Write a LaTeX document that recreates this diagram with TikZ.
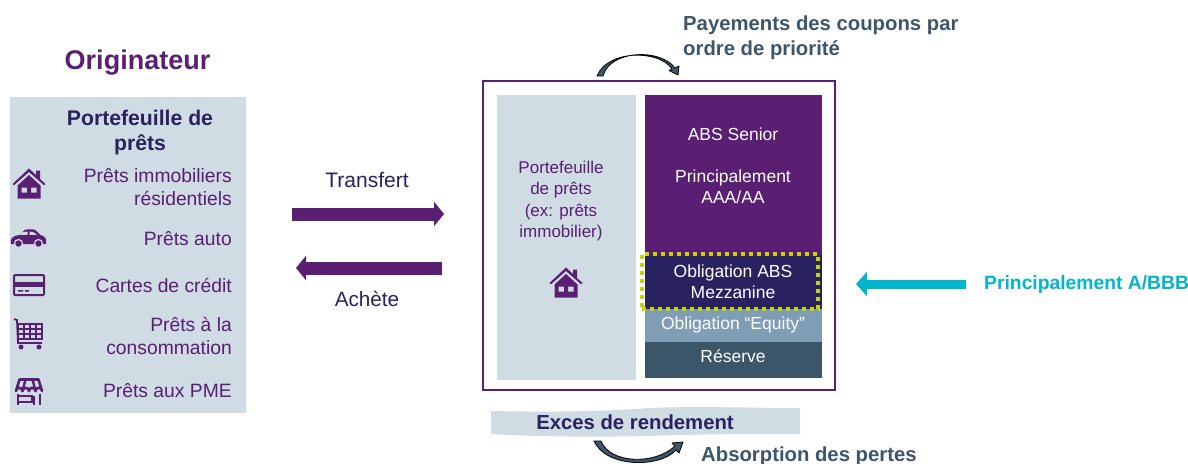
\documentclass[tikz,border=0pt]{standalone}
\usepackage{fontspec}
\setmainfont{Liberation Sans}
\usetikzlibrary{arrows.meta,positioning}
\definecolor{purp}{HTML}{5A1E73}
\definecolor{navy}{HTML}{2A2160}
\definecolor{pale}{HTML}{CFDCE4}
\definecolor{midb}{HTML}{7F9EB6}
\definecolor{dark}{HTML}{3B5668}
\definecolor{slate}{HTML}{3D566C}
\definecolor{cyanb}{HTML}{00B5CC}
\definecolor{lime}{HTML}{C4D600}
\tikzset{
 x=1pt,y=-1pt,
 lbl/.style={font=\fontsize{19.3}{23}\selectfont,text=purp,inner sep=0pt},
 rlbl/.style={lbl,anchor=east,align=right},
 wlbl/.style={font=\fontsize{17.5}{21}\selectfont,text=white,inner sep=0pt,align=center},
 head/.style={font=\bfseries\fontsize{20.3}{24.5}\selectfont,inner sep=0pt},
 block/.style={inner sep=0pt,outer sep=0pt,minimum width=177pt,anchor=north west},
 bigarrow/.style={line width=13pt,-{Triangle[length=10pt,width=24pt]}},
 crescent/.style={fill=slate,draw=black,line width=0.8pt,line join=round},
}
\newcommand{\house}[3]{\begin{scope}[shift={(#1,#2)},scale=#3]
 \fill[purp] (-16.5,0)--(0,-15.5)--(7,-9)--(7,-13.5)--(11,-13.5)--(11,-5)--(16.5,0)--(15,1.2)--(0,-12)--(-15,1.2)--cycle;
 \fill[purp,even odd rule] (-11.5,1.5)--(0,-9)--(11.5,1.5)--(11.5,14.5)--(-11.5,14.5)--cycle (-7.5,3.5) rectangle (-2,8.5) (2,3.5) rectangle (7.5,8.5);
 \end{scope}}
\begin{document}
\begin{tikzpicture}
\useasboundingbox (0,0) rectangle (1188,463);
\fill[white] (0,0) rectangle (1188,463);
% left panel
\node[font=\bfseries\fontsize{27}{32}\selectfont,text=purp,inner sep=0pt] (orig) at (137.5,63) {Originateur};
\node[fill=pale,minimum width=236pt,minimum height=316pt,inner sep=0pt,outer sep=0pt,anchor=north west] (leftp) at (10,97) {};
\node[head,text=navy,align=center,font=\bfseries\fontsize{21.2}{25}\selectfont] (pf) at (140,132.5) {Portefeuille de\\prêts};
\node[rlbl] (l1) at (232,187.5) {Prêts immobiliers\\résidentiels};
\node[rlbl] (l2) at (232,239) {Prêts auto};
\node[rlbl] (l3) at (232,285) {Cartes de crédit};
\node[rlbl] (l4) at (232,336) {Prêts à la\\consommation};
\node[rlbl] (l5) at (232,391) {Prêts aux PME};
% icons
\house{29}{184}{1}
\begin{scope}[shift={(28.5,238)}]
 \fill[purp,even odd rule] (-17.5,6) .. controls (-18.5,1) and (-17,-2) .. (-9,-3) -- (-4,-8) .. controls (0,-9) and (4,-9) .. (7,-8) -- (12,-3) .. controls (16,-2) and (18.5,0) .. (17.5,6) -- cycle
  (-6,-6)--(-1,-6.5)--(-1,-3)--(-9,-3)--cycle (1,-6.5)--(5,-6)--(9,-3)--(1,-3)--cycle;
 \fill[purp,draw=pale,line width=1.2pt] (-10,5.5) circle (4) (10,5.5) circle (4);
\end{scope}
\begin{scope}[shift={(29,285)}]
 \draw[purp,line width=2pt,rounded corners=1pt] (-15,-10) rectangle (15,10);
 \fill[purp] (-15,-3.5) rectangle (15,2);
 \fill[purp] (-11,5) rectangle (-6,6.5) (-4,5) rectangle (0,6.5);
\end{scope}
\begin{scope}[shift={(29,334)}]
 \draw[purp,line width=1.8pt] (-15,-15)--(-12,-14)--(-11,9)--(13,9);
 \draw[purp,line width=1.6pt] (-11,-10) rectangle (13,5);
 \draw[purp,line width=1.2pt] (-11,-5)--(13,-5) (-11,0)--(13,0) (-5,-10)--(-5,5) (1,-10)--(1,5) (7,-10)--(7,5);
 \fill[purp] (-8,13) circle (2.5) (10,13) circle (2.5);
\end{scope}
\begin{scope}[shift={(29,391)}]
 \draw[purp,line width=2.6pt,line join=round] (-9.5,-11.5)--(9.5,-11.5)--(13,0) arc (0:-180:3.25) arc (0:-180:3.25) arc (0:-180:3.25) arc (0:-180:3.25)--cycle;
 \draw[purp,line width=2.4pt] (-3.5,-11.5)--(-6.5,0) (3.5,-11.5)--(6.5,0);
 \draw[purp,line width=2.8pt] (-11,3)--(-11,14) (11,3)--(11,14);
 \draw[purp,line width=2.4pt] (-11,5) rectangle (3,11);
 \draw[purp,line width=2.8pt] (5,5)--(5,14);
\end{scope}
% transfer arrows
\coordinate (a1s) at (292,214); \coordinate (a1e) at (444,214);
\coordinate (a2s) at (442,268); \coordinate (a2e) at (296,268);
\draw[bigarrow,purp] (a1s) -- (a1e);
\draw[bigarrow,purp] (a2s) -- (a2e);
\node[lbl,text=navy,font=\fontsize{21}{24}\selectfont] (tr) at (367,180) {Transfert};
\node[lbl,text=navy,font=\fontsize{20.7}{24}\selectfont] (ac) at (367,299) {Achète};
% main box
\node[draw=purp,line width=1.3pt,minimum width=352pt,minimum height=309pt,inner sep=0pt,outer sep=0pt,anchor=north west] (main) at (483,81) {};
\node[fill=pale,minimum width=139pt,minimum height=285pt,inner sep=0pt,outer sep=0pt,anchor=north west] (pool) at (497,95) {};
\node[lbl,align=center,font=\fontsize{17}{21.5}\selectfont] (pooltxt) at (561,201) {Portefeuille\\de prêts\\(ex: prêts\\immobilier)};
\house{566}{283}{1}
\node[block,fill=purp,minimum height=160pt] (senior) at (645,95) {};
\node[block,fill=navy,minimum height=54pt] (mezz) at (645,255) {};
\node[block,fill=midb,minimum height=33pt] (eq) at (645,309) {};
\node[block,fill=dark,minimum height=36pt] (res) at (645,342) {};
\node[wlbl] at (733,134) {ABS Senior};
\node[wlbl] at (733,187) {Principalement\\AAA/AA};
\node[wlbl] at (733,281.5) {Obligation ABS\\Mezzanine};
\node[wlbl] at (733,325) {Obligation “Equity”};
\node[wlbl] at (733,356) {Réserve};
\node[draw=lime,line width=4pt,dash pattern=on 4pt off 4pt,minimum width=176pt,minimum height=55pt,inner sep=0pt,outer sep=0pt,anchor=north west] (dotbox) at (642,254) {};
% right arrow
\coordinate (cs) at (966,284); \coordinate (ce) at (856,284);
\draw[line width=9pt,cyanb,-{Triangle[length=11pt,width=24pt]}] (cs) -- (ce);
\node[font=\bfseries\fontsize{19.3}{22}\selectfont,text=cyanb,inner sep=0pt,anchor=west] (pab) at (984,285) {Principalement A/BBB};
% top
\node[head,text=slate,anchor=west,align=left] (pay) at (683,38) {Payements des coupons par\\ordre de priorité};
\draw[crescent] (597,76) .. controls (608,49) and (660,50) .. (672,69) -- (669,70.5) -- (678,75) -- (679,66) -- (675,68) .. controls (660,48) and (610,50) .. (603,76) -- cycle;
% bottom
\fill[pale] (491,411) .. controls (540,412) and (600,412) .. (648,408) .. controls (700,406) and (750,408) .. (800,408) -- (800,434) .. controls (740,434) and (700,434) .. (650,436) .. controls (600,437) and (540,437) .. (491,434) -- cycle;
\node[font=\bfseries\fontsize{20.3}{24}\selectfont,text=navy,inner sep=0pt] (exc) at (635,422) {Exces de rendement};
\draw[crescent] (594,441) .. controls (606,468) and (660,468) .. (676,450) -- (679,453) -- (683,442) -- (672,443) -- (675,446) .. controls (655,465) and (610,464) .. (601,441) -- cycle;
\node[head,text=slate,anchor=west] (abs) at (701,456) {Absorption des pertes};
\end{tikzpicture}
\end{document}
